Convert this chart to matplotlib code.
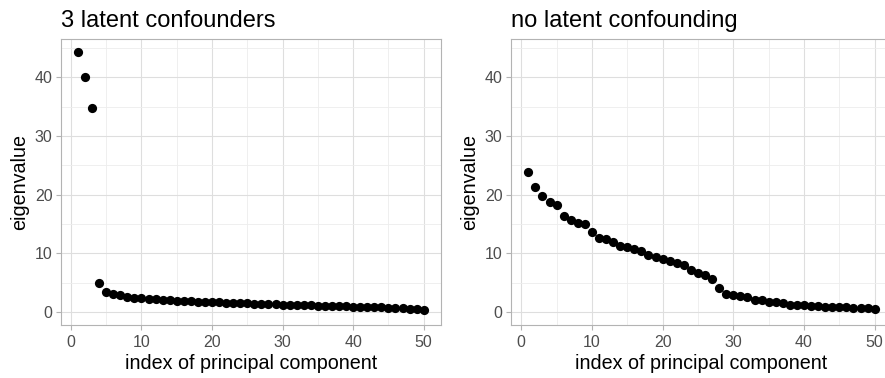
import matplotlib
matplotlib.use("Agg")
import matplotlib.pyplot as plt
from matplotlib.ticker import MultipleLocator

# - Scree plots: eigenvalues of the first 50 principal components - #

plt.rcParams['font.family'] = ['Liberation Sans', 'DejaVu Sans']

pc_index = list(range(1, 51))

eig_confounded = [44.3, 40.1, 34.8, 4.95, 3.5, 3.1, 2.85, 2.65, 2.5, 2.38,
                  2.28, 2.2, 2.12, 2.05, 1.98, 1.92, 1.86, 1.8, 1.75, 1.7,
                  1.65, 1.6, 1.56, 1.52, 1.48, 1.44, 1.4, 1.36, 1.32, 1.28,
                  1.25, 1.21, 1.18, 1.14, 1.11, 1.08, 1.04, 1.01, 0.98, 0.95,
                  0.91, 0.88, 0.84, 0.8, 0.76, 0.72, 0.67, 0.61, 0.52, 0.35]

eig_unconfounded = [23.9, 21.4, 19.8, 18.8, 18.3, 16.4, 15.7, 15.25, 15.0, 13.6,
                    12.7, 12.5, 12.0, 11.3, 11.1, 10.7, 10.4, 9.7, 9.4, 9.0,
                    8.7, 8.4, 8.0, 7.2, 6.7, 6.3, 5.7, 4.2, 3.1, 2.9,
                    2.8, 2.65, 2.15, 2.0, 1.7, 1.65, 1.5, 1.3, 1.25, 1.15,
                    1.1, 1.0, 0.95, 0.9, 0.85, 0.8, 0.75, 0.7, 0.65, 0.5]

titles = ["3 latent confounders", "no latent confounding"]
panels = [eig_confounded, eig_unconfounded]

fig = plt.figure(figsize=(8.85, 3.78), dpi=100)
ax_boxes = [[0.0686, 0.140, 0.4297, 0.756],
            [0.5774, 0.140, 0.4305, 0.756]]

for i, (box, title, values) in enumerate(zip(ax_boxes, titles, panels)):
    ax = fig.add_axes(box)
    ax.scatter(pc_index, values, s=44, color="black", linewidths=0, zorder=3)
    ax.set_xlim(-1.45, 52.45)
    ax.set_ylim(-2.2, 46.5)
    ax.xaxis.set_major_locator(MultipleLocator(10))
    ax.xaxis.set_minor_locator(MultipleLocator(5))
    ax.yaxis.set_major_locator(MultipleLocator(10))
    ax.yaxis.set_minor_locator(MultipleLocator(5))
    ax.grid(which="major", color="#DEDEDE", linewidth=0.8)
    ax.grid(which="minor", color="#EDEDED", linewidth=0.6)
    ax.set_axisbelow(True)
    for sp in ax.spines.values():
        sp.set_color("#B3B3B3")
        sp.set_linewidth(0.8)
    if i == 1:
        # right panel runs past the edge of the picture
        ax.spines["right"].set_visible(False)
    ax.tick_params(which="major", length=3.5, width=0.8, color="#B3B3B3",
                   labelsize=11.5, labelcolor="#4D4D4D", pad=2.5)
    ax.tick_params(axis="x", which="major", pad=3.5)
    ax.tick_params(which="minor", length=0)
    ax.set_xlabel("index of principal component", fontsize=14.2, labelpad=3)
    ax.set_ylabel("eigenvalue", fontsize=14.2, labelpad=4)
    ax.set_title(title, loc="left", fontsize=17, pad=9)

fig.savefig("out.png", dpi=100)
